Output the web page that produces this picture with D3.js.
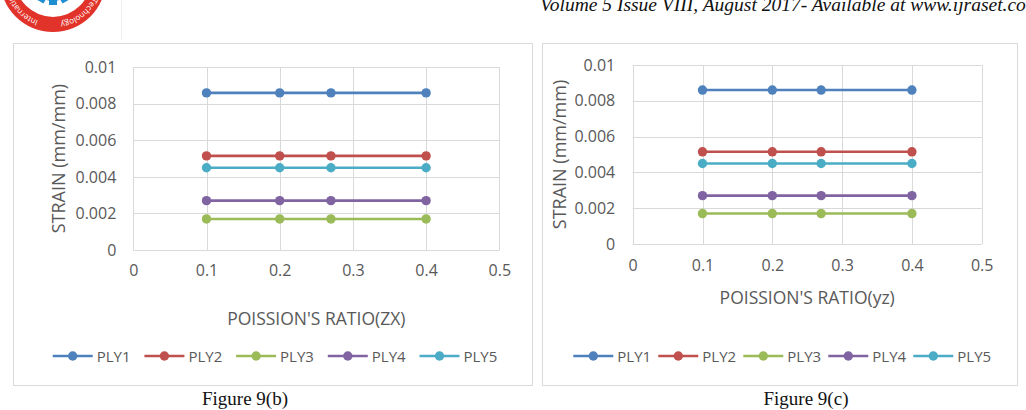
<!DOCTYPE html>
<html>
<head>
<meta charset="utf-8">
<script src="https://cdn.jsdelivr.net/npm/d3@7"></script>
<style>
  body { margin: 0; background: #fff; }
  svg { display: block; }
</style>
</head>
<body>
<div id="page"></div>
<script>
// valores (iguales en las dos figuras)
const xValues = [0.1, 0.2, 0.27, 0.4];
const seriesNames = ["PLY1", "PLY2", "PLY3", "PLY4", "PLY5"];
const ply1 = [0.0086, 0.0086, 0.0086, 0.0086];
const ply2 = [0.00515, 0.00515, 0.00515, 0.00515];
const ply3 = [0.0017, 0.0017, 0.0017, 0.0017];
const ply4 = [0.0027, 0.0027, 0.0027, 0.0027];
const ply5 = [0.0045, 0.0045, 0.0045, 0.0045];
const xTicks = [0, 0.1, 0.2, 0.3, 0.4, 0.5];
const yTicks = [0, 0.002, 0.004, 0.006, 0.008, 0.01];
const xTickLabels = ["0", "0.1", "0.2", "0.3", "0.4", "0.5"];
const yTickLabels = ["0", "0.002", "0.004", "0.006", "0.008", "0.01"];
const colors = ["#4F81BD", "#C0504D", "#9BBB59", "#8064A2", "#4BACC6"];
const yTitle = "STRAIN (mm/mm)";
const xTitles = ["POISSION'S RATIO(ZX)", "POISSION'S RATIO(yz)"];
const captions = ["Figure 9(b)", "Figure 9(c)"];
const headerText = "Volume 5 Issue VIII, August 2017- Available at www.ijraset.com";

const allSeries = [ply1, ply2, ply3, ply4, ply5];

const width = 1026, height = 410;
const font = "'Open Sans', sans-serif";
const textColor = "#595959";
const gridColor = "#D9D9D9";

const svg = d3.select("#page").append("svg")
    .attr("width", width)
    .attr("height", height);

// ---- cabecera: logo y texto de la revista ----
function drawHeader() {
    const logo = svg.append("g");
    const cx = 53, cy = -21;
    logo.append("circle").attr("cx", cx).attr("cy", cy).attr("r", 53).attr("fill", "#E2332A");
    logo.append("circle").attr("cx", cx).attr("cy", cy).attr("r", 38).attr("fill", "#fff");
    // engranaje azul
    const gear = logo.append("g").attr("transform", `translate(${cx},${cy})`);
    gear.append("circle").attr("r", 22).attr("fill", "#1D8FD1");
    for (let a = 0; a < 360; a += 30) {
        gear.append("rect")
            .attr("x", -4).attr("y", 18).attr("width", 8).attr("height", 8)
            .attr("fill", "#1D8FD1")
            .attr("transform", `rotate(${a})`);
    }
    gear.append("circle").attr("r", 12).attr("fill", "#fff");

    const r = 44;
    logo.append("path")
        .attr("id", "logoArc")
        .attr("fill", "none")
        .attr("d", `M${cx + r},${cy} A${r},${r} 0 1 1 ${cx - r},${cy} A${r},${r} 0 1 1 ${cx + r},${cy}`);
    const arcText = (txt, offset) => logo.append("text")
        .style("font-family", font)
        .style("font-size", "8px")
        .attr("fill", "#fff")
        .append("textPath")
        .attr("href", "#logoArc")
        .attr("startOffset", offset)
        .text(txt);
    arcText("Technology", 19);
    arcText("International", 84);

    svg.append("line")
        .attr("x1", 121.5).attr("x2", 121.5).attr("y1", 0).attr("y2", 40)
        .attr("stroke", "#eeeeee");

    svg.append("text")
        .attr("x", 540).attr("y", 11)
        .style("font-family", "'Liberation Serif', serif")
        .style("font-style", "italic")
        .style("font-size", "19.5px")
        .attr("fill", "#111")
        .text(headerText);
}

// ---- un panel del grafico ----
function drawPanel(cfg, idx) {
    const g = svg.append("g");

    g.append("rect")
        .attr("x", cfg.box[0] + 0.5).attr("y", cfg.box[1] + 0.5)
        .attr("width", cfg.box[2] - cfg.box[0]).attr("height", cfg.box[3] - cfg.box[1])
        .attr("fill", "#fff")
        .attr("stroke", gridColor);

    const x = d3.scaleLinear().domain([0, 0.5]).range(cfg.xRange);
    const y = d3.scaleLinear().domain([0, 0.01]).range(cfg.yRange);

    // rejilla
    g.selectAll(".hgrid").data(yTicks).enter().append("line")
        .attr("x1", cfg.xRange[0]).attr("x2", cfg.xRange[1])
        .attr("y1", d => Math.round(y(d)) + 0.5).attr("y2", d => Math.round(y(d)) + 0.5)
        .attr("stroke", gridColor);
    g.selectAll(".vgrid").data(xTicks).enter().append("line")
        .attr("x1", d => Math.round(x(d)) + 0.5).attr("x2", d => Math.round(x(d)) + 0.5)
        .attr("y1", cfg.yRange[0]).attr("y2", cfg.yRange[1])
        .attr("stroke", gridColor);

    // ejes (solo etiquetas)
    const yAxis = g.append("g")
        .attr("transform", `translate(${cfg.xRange[0]},0)`)
        .call(d3.axisLeft(y).tickValues(yTicks).tickSize(0).tickPadding(cfg.yPad)
            .tickFormat((d, i) => yTickLabels[i]));
    const xAxis = g.append("g")
        .attr("transform", `translate(0,${cfg.yRange[0]})`)
        .call(d3.axisBottom(x).tickValues(xTicks).tickSize(0).tickPadding(cfg.xPad)
            .tickFormat((d, i) => xTickLabels[i]));
    [xAxis, yAxis].forEach(a => {
        a.select(".domain").remove();
        a.selectAll("text")
            .style("font-family", font)
            .style("font-size", "16px")
            .attr("fill", textColor);
    });

    // series
    const line = d3.line().x((d, i) => x(xValues[i])).y(d => y(d));
    allSeries.forEach((vals, s) => {
        g.append("path")
            .attr("d", line(vals))
            .attr("fill", "none")
            .attr("stroke", colors[s])
            .attr("stroke-width", 2.6);
        g.selectAll(null).data(vals).enter().append("circle")
            .attr("cx", (d, i) => x(xValues[i]))
            .attr("cy", d => y(d))
            .attr("r", 4.7)
            .attr("fill", colors[s]);
    });

    // titulos de ejes
    g.append("text")
        .attr("transform", `translate(${cfg.yTitlePos[0]},${cfg.yTitlePos[1]}) rotate(-90)`)
        .attr("text-anchor", "middle")
        .attr("dominant-baseline", "central")
        .style("font-family", font)
        .style("font-size", "18px")
        .attr("fill", textColor)
        .text(yTitle);
    g.append("text")
        .attr("x", (cfg.xRange[0] + cfg.xRange[1]) / 2)
        .attr("y", cfg.xTitleY)
        .attr("text-anchor", "middle")
        .attr("dominant-baseline", "central")
        .style("font-family", font)
        .style("font-size", "17.5px")
        .attr("fill", textColor)
        .text(xTitles[idx]);

    // leyenda
    const legend = g.append("g");
    seriesNames.forEach((name, s) => {
        const lx = cfg.legendX + s * cfg.legendStep;
        legend.append("line")
            .attr("x1", lx).attr("x2", lx + 40)
            .attr("y1", cfg.legendY).attr("y2", cfg.legendY)
            .attr("stroke", colors[s]).attr("stroke-width", 2.6);
        legend.append("circle")
            .attr("cx", lx + 20).attr("cy", cfg.legendY).attr("r", 4.7)
            .attr("fill", colors[s]);
        legend.append("text")
            .attr("x", lx + 44).attr("y", cfg.legendY)
            .attr("dominant-baseline", "central")
            .style("font-family", font)
            .style("font-size", "15px")
            .attr("fill", textColor)
            .text(name);
    });

    // pie de figura
    svg.append("text")
        .attr("x", cfg.captionX).attr("y", 405)
        .attr("text-anchor", "middle")
        .style("font-family", "'Liberation Serif', serif")
        .style("font-size", "19px")
        .attr("fill", "#111")
        .text(captions[idx]);
}

const panels = [
    { box: [13, 43, 532, 385], xRange: [133.3, 499.3], yRange: [250, 67.3], yPad: 17, xPad: 15,
      yTitlePos: [57.5, 158.6], xTitleY: 318, legendX: 52.7, legendStep: 91.7, legendY: 356, captionX: 245 },
    { box: [542, 43, 1017, 385], xRange: [632.7, 981.7], yRange: [244, 65], yPad: 17.5, xPad: 16,
      yTitlePos: [559, 154.5], xTitleY: 297, legendX: 573.3, legendStep: 85, legendY: 356, captionX: 806 }
];

drawHeader();
panels.forEach(drawPanel);
</script>
</body>
</html>
